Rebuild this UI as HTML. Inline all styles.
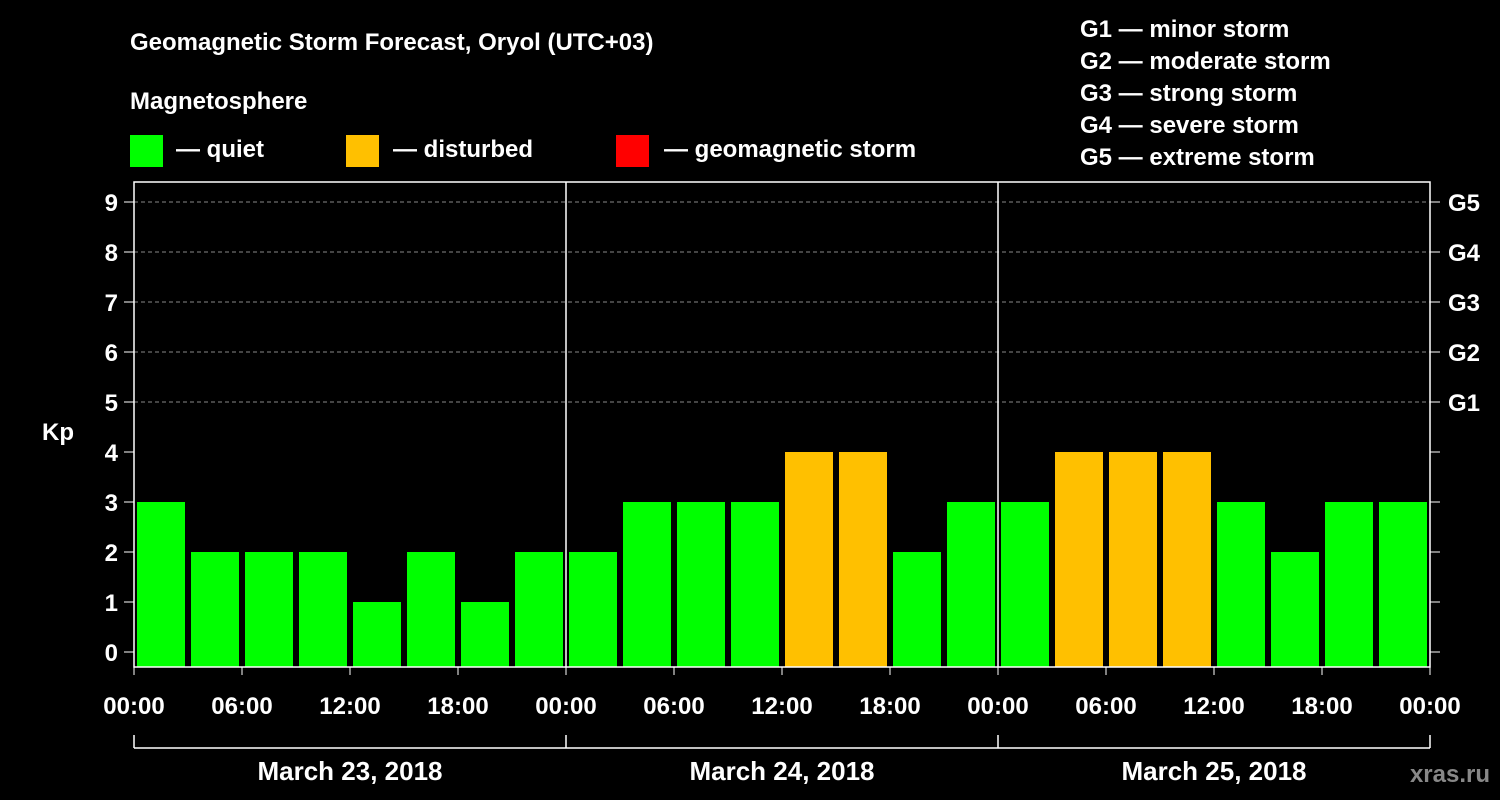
<!DOCTYPE html>
<html><head><meta charset="utf-8"><style>
html,body{margin:0;padding:0;background:#000;width:1500px;height:800px;overflow:hidden}
svg text{font-family:"Liberation Sans",Arial,sans-serif;font-weight:bold;fill:#fff}
</style></head><body>
<svg id="c" width="1500" height="800" xmlns="http://www.w3.org/2000/svg">
<text x="130" y="50" font-size="24">Geomagnetic Storm Forecast, Oryol (UTC+03)</text>
<text x="130" y="109" font-size="24">Magnetosphere</text>
<rect x="130" y="135" width="33" height="32" fill="#00ff00"/>
<text x="176" y="157" font-size="24">— quiet</text>
<rect x="346" y="135" width="33" height="32" fill="#ffc000"/>
<text x="393" y="157" font-size="24">— disturbed</text>
<rect x="616" y="135" width="33" height="32" fill="#ff0000"/>
<text x="664" y="157" font-size="24">— geomagnetic storm</text>
<g font-size="24">
<text x="1080" y="37">G1 — minor storm</text>
<text x="1080" y="69">G2 — moderate storm</text>
<text x="1080" y="101">G3 — strong storm</text>
<text x="1080" y="133">G4 — severe storm</text>
<text x="1080" y="165">G5 — extreme storm</text>
</g>
<text x="42" y="440" font-size="24">Kp</text>
<text x="1490" y="782" font-size="24" text-anchor="end" style="fill:#888">xras.ru</text>
<g id="grid"></g><g id="bars"></g><g id="axes"></g>
</svg>
<script>
const kpValues=[3,2,2,2,1,2,1,2, 2,3,3,3,4,4,2,3, 3,4,4,4,3,2,3,3];
const dayLabels=["March 23, 2018","March 24, 2018","March 25, 2018"];
const hourLabels=["00:00","06:00","12:00","18:00"];
const yTicks=[0,1,2,3,4,5,6,7,8,9];
const gLabels=["G1","G2","G3","G4","G5"];
const NS="http://www.w3.org/2000/svg";
const L=134,R=1430,T=182,B=667;
const y=v=>652-v*50;
const x=i=>L+i*(R-L)/kpValues.length;
function mk(tag,attrs,parent,txt){const e=document.createElementNS(NS,tag);for(const k in attrs)e.setAttribute(k,attrs[k]);if(txt!==undefined)e.textContent=txt;parent.appendChild(e);return e;}
const grid=document.getElementById('grid'),bars=document.getElementById('bars'),axes=document.getElementById('axes');
yTicks.forEach(v=>{
 if(v>=5){const g=mk('line',{x1:L,x2:R,y1:y(v),y2:y(v),stroke:'#888','stroke-dasharray':'4,3','stroke-width':1},grid);
 
 }
 const t=mk('text',{x:118,y:y(v)+9,'font-size':24,'text-anchor':'end'},axes,String(v));
 
 
 mk('line',{x1:124,x2:L,y1:y(v),y2:y(v),stroke:'#fff','stroke-width':1},axes);
 mk('line',{x1:R,x2:R+10,y1:y(v),y2:y(v),stroke:'#fff','stroke-width':1},axes);
});
gLabels.forEach((g,i)=>{const t=mk('text',{x:1448,y:y(5+i)+9,'font-size':24},axes,g);
 
 });
const slot=(R-L)/kpValues.length;
kpValues.forEach((v,i)=>{
 const col=v>=5?'#ff0000':(v>=4?'#ffc000':'#00ff00');
 const r=mk('rect',{x:x(i)+3,y:y(v),width:slot-6,height:B-y(v),fill:col},bars);
 
 
});
mk('rect',{x:L,y:T,width:R-L,height:B-T,fill:'none',stroke:'#fff','stroke-width':1.5},axes);
const dw=(R-L)/dayLabels.length;
for(let d=1;d<dayLabels.length;d++)mk('line',{x1:L+d*dw,x2:L+d*dw,y1:T,y2:B,stroke:'#fff','stroke-width':1.5},axes);
mk('line',{x1:L,x2:R,y1:748,y2:748,stroke:'#fff','stroke-width':1.5},axes);
for(let d=0;d<=dayLabels.length;d++){
 const xx=L+d*dw;mk('line',{x1:xx,x2:xx,y1:735,y2:748,stroke:'#fff','stroke-width':1.5},axes);
}
dayLabels.forEach((s,d)=>{const t=mk('text',{x:L+(d+0.5)*dw,y:780,'font-size':26,'text-anchor':'middle'},axes,s);
 
 });
for(let d=0;d<dayLabels.length;d++){hourLabels.forEach((h,j)=>{
 const xx=L+d*dw+j*dw/4;
 mk('line',{x1:xx,x2:xx,y1:B,y2:B+8,stroke:'#fff','stroke-width':1},axes);
 const t=mk('text',{x:xx,y:714,'font-size':24,'text-anchor':'middle'},axes,h);
 
 
});}
mk('line',{x1:R,x2:R,y1:B,y2:B+8,stroke:'#fff'},axes);
const t=mk('text',{x:R,y:714,'font-size':24,'text-anchor':'middle'},axes,hourLabels[0]);


</script>
</body></html>
